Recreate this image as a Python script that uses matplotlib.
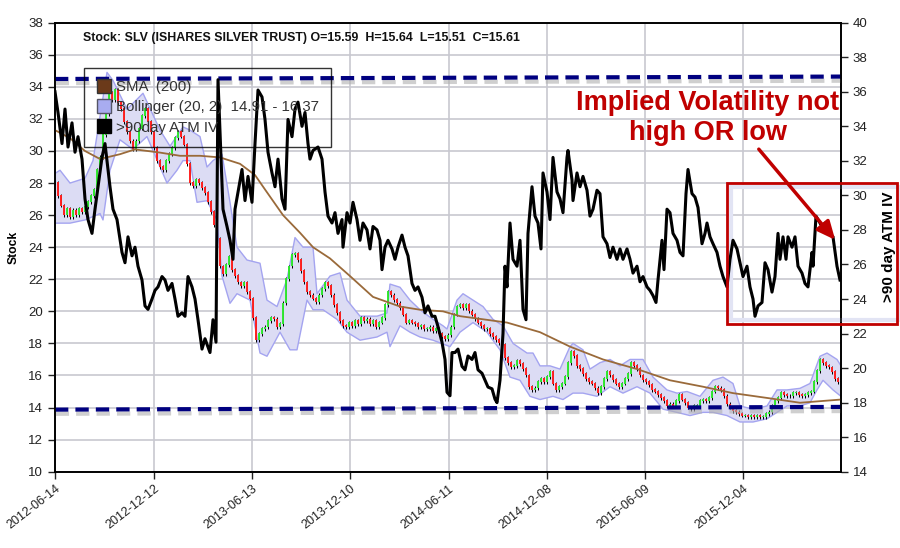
import numpy as np
import matplotlib
matplotlib.use("Agg")
import matplotlib.pyplot as plt
import matplotlib.lines as mlines
import matplotlib.patches as mpatches
import matplotlib.patheffects as pe

plt.rcParams['font.family'] = ['Liberation Sans', 'DejaVu Sans']

# x positions are bar slots along the time axis (0 .. 786)
date_ticks = [0, 99, 197, 295, 394, 492, 590, 688]
date_labels = ['2012-06-14', '2012-12-12', '2013-06-13', '2013-12-10',
               '2014-06-11', '2014-12-08', '2015-06-09', '2015-12-04']

# SLV closes, one every 3 slots
close = [28.0, 27.2, 26.6, 26.0, 26.4, 25.9, 26.3, 26.0, 26.4, 26.2, 26.5, 26.8,
         27.2, 27.6, 28.8, 29.6, 31.0, 32.3, 33.6, 33.2, 33.8, 33.0, 32.6, 31.8,
         31.2, 30.6, 30.1, 30.6, 31.4, 32.2, 32.6, 31.8, 31.2, 30.2, 29.4, 29.0,
         28.8, 29.4, 29.8, 30.2, 30.8, 31.2, 30.9, 30.4, 29.2, 28.0, 27.8, 28.2,
         28.0, 27.7, 27.4, 26.8, 26.2, 25.4, 24.5, 22.8, 22.3, 22.9, 23.4, 22.6,
         22.2, 21.8, 21.6, 21.8, 21.2, 20.8, 19.6, 18.2, 18.6, 18.9, 19.0, 19.4,
         19.6, 19.5, 19.0, 19.2, 20.5, 22.0, 22.8, 23.5, 23.6, 23.2, 22.5, 21.8,
         21.2, 21.0, 20.8, 20.6, 21.0, 21.4, 21.8, 21.6, 21.0, 20.4, 19.9, 19.4,
         19.1, 19.0, 19.3, 19.1, 19.4, 19.2, 19.6, 19.4, 19.5, 19.2, 19.4, 19.0,
         19.3, 19.6, 20.4, 21.2, 21.0, 20.7, 20.5, 20.2, 19.8, 19.3, 19.4, 19.3,
         19.2, 19.0, 19.1, 18.9, 18.9, 19.0, 18.8, 18.9, 18.6, 18.4, 18.3, 18.5,
         19.0, 19.8, 20.3, 20.4, 20.2, 20.4, 20.0, 19.8, 19.5, 19.3, 19.1, 18.9,
         18.9, 18.6, 18.4, 18.2, 18.0, 17.9, 17.1, 16.8, 16.5, 16.6, 16.9, 16.7,
         16.4, 16.0, 15.3, 15.1, 15.2, 15.6, 15.8, 15.6, 15.9, 16.2, 15.5, 15.1,
         15.3, 15.5, 15.9, 16.8, 17.5, 17.2, 16.6, 16.4, 16.1, 15.8, 15.6, 15.5,
         15.2, 14.9, 15.3, 15.8, 16.2, 16.0, 15.7, 15.5, 15.3, 15.5, 15.8, 16.1,
         16.8, 16.6, 16.4, 16.0, 15.7, 15.6, 15.4, 15.1, 15.0, 14.8, 14.6, 14.4,
         14.1, 14.2, 14.1, 14.4, 14.8, 14.5, 14.3, 14.0, 13.9, 14.1, 14.1, 14.4,
         14.5, 14.4, 14.6, 15.0, 15.3, 15.2, 15.1, 14.7, 14.2, 14.0, 13.8, 13.7,
         13.6, 13.5, 13.5, 13.4, 13.5, 13.4, 13.5, 13.4, 13.4, 13.6, 13.7, 14.1,
         14.4, 14.6, 14.9, 14.8, 14.7, 14.7, 14.9, 14.9, 14.8, 14.7, 14.8, 14.9,
         15.0, 15.6, 16.3, 17.0, 16.8, 16.6, 16.5, 16.2, 15.8, 15.6, 15.6]
close_t = np.arange(len(close)) * 3

sma_t = [0, 15, 30, 45, 65, 80, 105, 125, 145, 165, 185, 200, 210, 228, 245, 258,
         275, 295, 318, 345, 365, 388, 405, 452, 485, 515, 548, 582, 615, 648,
         678, 712, 745, 786]
sma = [31.3, 30.8, 30.0, 29.5, 29.8, 30.1, 29.9, 29.7, 29.7, 29.6, 29.2, 28.5,
       27.6, 26.0, 24.9, 24.0, 23.3, 22.2, 20.9, 20.3, 20.1, 20.0, 19.7, 19.3,
       18.7, 17.8, 17.0, 16.4, 15.7, 15.3, 14.9, 14.6, 14.3, 14.5]

bb_up_t = [0, 5, 15, 30, 38, 52, 58, 72, 88, 105, 115, 128, 135, 145, 152, 158,
           167, 175, 182, 192, 205, 212, 222, 232, 240, 248, 258, 262, 275, 285,
           292, 305, 322, 332, 335, 345, 355, 365, 378, 388, 392, 402, 408, 418,
           428, 438, 448, 458, 472, 478, 485, 495, 505, 515, 518, 528, 535, 545,
           555, 565, 575, 588, 598, 612, 622, 632, 645, 658, 668, 678, 685, 698,
           712, 722, 732, 745, 755, 765, 772, 782, 786]
bb_up = [28.6, 28.8, 28.0, 28.3, 29.4, 34.9, 34.4, 32.6, 33.6, 31.3, 30.3, 31.5,
         31.3, 30.9, 29.0, 29.4, 29.8, 26.8, 24.0, 23.2, 23.0, 20.7, 20.3, 22.0,
         24.6, 24.0, 24.0, 21.1, 22.2, 22.4, 20.7, 19.7, 19.7, 19.9, 21.7, 21.5,
         20.7, 20.1, 19.5, 19.1, 18.9, 20.7, 21.1, 20.7, 20.3, 19.5, 19.1, 18.0,
         17.4, 17.4, 16.6, 16.6, 16.4, 17.8, 18.0, 17.6, 16.4, 16.8, 17.0, 16.6,
         17.0, 17.0, 15.9, 15.1, 14.9, 15.0, 14.7, 15.7, 15.9, 15.5, 14.1, 13.9,
         14.1, 15.1, 15.1, 15.2, 15.5, 17.2, 17.4, 17.0, 16.6]

bb_lo_t = [0, 15, 30, 45, 48, 55, 65, 78, 92, 112, 122, 128, 135, 142, 152, 162,
           167, 175, 182, 195, 205, 212, 225, 235, 242, 252, 258, 268, 282, 292,
           305, 322, 332, 335, 345, 355, 365, 378, 395, 405, 418, 432, 445, 455,
           465, 475, 485, 498, 508, 518, 528, 542, 555, 568, 582, 595, 608, 622,
           635, 648, 658, 672, 685, 698, 712, 722, 732, 745, 755, 762, 768, 778,
           786]
bb_lo = [25.5, 25.5, 25.7, 26.1, 25.7, 28.8, 30.7, 30.1, 30.9, 28.0, 28.8, 29.4,
         29.4, 26.8, 26.9, 25.7, 22.2, 20.5, 21.1, 20.7, 17.4, 17.2, 18.7, 17.6,
         17.6, 20.7, 20.1, 20.1, 19.5, 18.7, 18.2, 18.4, 18.7, 17.8, 19.1, 18.7,
         18.4, 18.2, 17.8, 18.7, 19.3, 18.7, 17.6, 15.9, 15.7, 14.7, 14.5, 14.7,
         14.5, 14.9, 14.9, 14.7, 15.3, 14.9, 15.3, 14.9, 13.9, 13.7, 13.5, 13.7,
         13.7, 13.5, 13.1, 13.1, 13.3, 13.7, 14.1, 14.1, 14.3, 15.1, 15.7, 15.1,
         14.7]

iv_t = [0, 3, 7, 10, 13, 17, 20, 23, 27, 30, 33, 37, 40, 43, 47, 50, 53, 55, 58,
        62, 67, 70, 73, 77, 80, 83, 87, 90, 93, 97, 100, 103, 107, 110, 113, 117,
        120, 123, 127, 130, 133, 137, 140, 143, 147, 150, 155, 158, 161, 163, 166,
        168, 172, 175, 178, 180, 183, 187, 190, 193, 197, 200, 203, 207, 210, 213,
        217, 220, 223, 227, 230, 233, 237, 240, 243, 247, 250, 253, 255, 258, 263,
        267, 270, 273, 277, 280, 283, 287, 288, 292, 295, 298, 302, 305, 308, 312,
        315, 318, 322, 325, 327, 330, 333, 337, 340, 343, 347, 350, 353, 357, 360,
        363, 367, 370, 373, 377, 380, 383, 387, 390, 392, 395, 397, 400, 403, 407,
        410, 413, 417, 420, 423, 427, 430, 433, 437, 440, 442, 445, 448, 450, 452,
        455, 458, 462, 465, 468, 471, 473, 477, 480, 483, 486, 488, 492, 495, 498,
        502, 505, 508, 512, 513, 517, 518, 522, 525, 528, 532, 535, 538, 542, 545,
        548, 552, 555, 558, 562, 565, 568, 572, 575, 578, 582, 585, 588, 592, 595,
        598, 601, 603, 607, 609, 612, 615, 618, 622, 625, 628, 631, 633, 637, 640,
        643, 647, 650, 652, 655, 658, 662, 665, 668, 672, 675, 678, 682, 685, 688,
        692, 695, 698, 700, 703, 707, 710, 713, 717, 720, 723, 725, 728, 731, 733,
        737, 740, 743, 747, 750, 753, 757, 758, 761, 763, 767, 770, 773, 778, 782,
        785]
iv = [36.0, 34.8, 33.0, 35.0, 32.8, 34.2, 32.5, 33.4, 32.1, 29.8, 28.6, 27.8, 29.2,
      30.5, 32.2, 33.0, 31.5, 30.5, 29.2, 28.6, 26.7, 26.1, 27.6, 26.5, 27.0, 25.9,
      25.1, 23.6, 23.4, 24.0, 24.5, 24.7, 25.3, 25.1, 24.5, 24.9, 24.0, 23.0, 23.2,
      23.0, 25.3, 24.7, 24.0, 22.8, 21.1, 21.7, 20.9, 22.8, 21.5, 36.7, 32.1, 29.2,
      28.2, 27.4, 26.3, 29.2, 30.2, 31.5, 29.7, 31.1, 29.6, 33.0, 36.1, 35.7, 34.4,
      32.5, 31.3, 30.5, 32.1, 29.8, 29.2, 34.4, 33.4, 35.0, 35.4, 34.0, 34.8, 33.0,
      32.1, 32.6, 32.8, 32.1, 30.2, 28.8, 28.4, 29.0, 27.8, 28.6, 27.0, 29.0, 28.4,
      29.6, 28.6, 27.4, 28.4, 28.0, 26.9, 28.2, 28.0, 27.4, 25.7, 27.0, 27.4, 26.9,
      26.3, 27.0, 27.7, 27.0, 26.5, 24.9, 24.5, 24.7, 24.1, 23.2, 23.6, 23.0, 23.0,
      22.4, 21.5, 20.5, 18.6, 18.4, 20.9, 20.9, 21.1, 20.1, 19.9, 20.7, 20.5, 20.9,
      19.9, 19.7, 19.3, 18.9, 18.8, 18.2, 18.0, 19.3, 22.0, 25.9, 24.7, 28.4, 26.3,
      25.9, 27.4, 23.4, 22.8, 27.8, 30.5, 28.8, 28.4, 26.9, 31.3, 30.2, 28.6, 32.2,
      30.2, 29.8, 29.0, 32.2, 32.6, 30.9, 29.7, 31.3, 30.5, 31.1, 30.3, 28.8, 29.2,
      30.3, 30.1, 27.6, 27.2, 26.4, 27.0, 26.3, 26.9, 26.3, 26.9, 26.3, 25.5, 25.9,
      25.0, 25.3, 24.7, 24.5, 24.2, 23.8, 25.1, 27.4, 25.7, 29.2, 29.0, 27.8, 27.4,
      26.7, 26.5, 30.1, 31.5, 30.1, 29.9, 29.3, 27.2, 27.8, 28.4, 27.6, 27.2, 26.7,
      25.9, 25.3, 24.7, 26.3, 27.4, 26.9, 26.1, 25.3, 25.9, 24.7, 24.0, 23.0, 23.6,
      23.8, 26.1, 25.7, 24.4, 25.3, 27.8, 26.3, 27.6, 26.3, 27.6, 27.0, 27.6, 25.9,
      25.5, 24.9, 24.7, 26.7, 25.9, 28.8, 28.6, 28.2, 28.4, 27.8, 27.6, 25.9, 25.1]

# support / resistance levels (left axis), value at left and right edge
resist_level = [34.49, 34.64]
support_level = [13.87, 14.04]

fig = plt.figure(figsize=(9, 5.48), dpi=100)
ax = fig.add_axes([55 / 900, 76.3 / 548, 786 / 900, 449 / 548])
ax2 = ax.twinx()

ax.set_xlim(0, 786)
ax.set_ylim(10, 38)
ax2.set_ylim(14, 40)
ax.set_yticks(range(10, 39, 2))
ax2.set_yticks(range(14, 41, 2))
ax.set_xticks(date_ticks)
ax.set_xticklabels(date_labels, rotation=38, ha='right', rotation_mode='anchor')
ax.grid(True, color='#c8c8d0', lw=1.2)
ax.set_axisbelow(True)

for a in (ax, ax2):
    for s in a.spines.values():
        s.set_color('black')
        s.set_linewidth(1.2)
    a.tick_params(labelsize=9.5, colors='#222222', length=5, width=1)
ax.tick_params(axis='x', labelsize=9, pad=3)

# bollinger band
band_x = list(bb_up_t) + list(bb_lo_t[::-1])
band_y = list(bb_up) + list(bb_lo[::-1])
ax.fill(band_x, band_y, facecolor='#dcdcf4', edgecolor='none', zorder=1)
ax.plot(bb_up_t, bb_up, color='#a4a4f0', lw=1, zorder=1.5)
ax.plot(bb_lo_t, bb_lo, color='#a4a4f0', lw=1, zorder=1.5)

# candles: open is the previous close
opens = [close[0]] + close[:-1]
for t, o, c in zip(close_t, opens, close):
    lo, hi = min(o, c), max(o, c)
    ax.vlines(t, lo - 0.12, hi + 0.12, color='black', lw=0.7, zorder=2)
    ax.vlines(t, lo, hi + 0.05, color='#ff2020' if c < o else '#30e830',
              lw=1.4, zorder=2.1)

ax.plot(sma_t, sma, color='#9a6a3a', lw=1.3, zorder=3)

# dashed levels with grey shadow
shadow = [pe.SimpleLineShadow(offset=(0.5, -3), shadow_color='#b0b0b0', alpha=0.6),
          pe.Normal()]
for lvl in (resist_level, support_level):
    ax.plot([0, 786], lvl, color='#000080', lw=3, dashes=(3.2, 1.7),
            path_effects=shadow, zorder=4)

ax2.plot(iv_t, iv, color='black', lw=2.2, zorder=5)

ax.set_ylabel('Stock', fontsize=8.7, fontweight='bold')
ax.yaxis.set_label_coords(-0.0445, 0.5)
ax2.set_ylabel('>90 day ATM IV', fontsize=11, fontweight='bold', rotation=90)
ax2.yaxis.set_label_coords(1.052, 0.5)

ax.text(28, 37.05, 'Stock: SLV (ISHARES SILVER TRUST) O=15.59  H=15.64  L=15.51  C=15.61',
        fontsize=8.9, fontweight='bold', color='#111111', va='center')

h_sma = mlines.Line2D([], [], marker='s', ls='none', markersize=10,
                      markerfacecolor='#6b3a1a', markeredgecolor='#333333')
h_bb = mlines.Line2D([], [], marker='s', ls='none', markersize=10,
                     markerfacecolor='#a8acf0', markeredgecolor='#555566')
h_iv = mlines.Line2D([], [], marker='s', ls='none', markersize=10,
                     markerfacecolor='black', markeredgecolor='black')
leg = ax2.legend([h_sma, h_bb, h_iv],
                 ['SMA  (200)', 'Bollinger (20, 2)  14.91 - 16.37', '>90day ATM IV'],
                 loc='upper left', bbox_to_anchor=(0.0369, 0.899), borderaxespad=0,
                 fontsize=10.8, frameon=True, fancybox=False,
                 edgecolor='black', handlelength=1.0, handletextpad=0.3,
                 labelspacing=0.42, borderpad=0.8)
leg.get_frame().set_linewidth(1)
leg.get_frame().set_facecolor('none')
for txt in leg.get_texts():
    txt.set_color('#333333')

# annotation box, arrow and text (right axis units)
ax2.add_patch(mpatches.Rectangle((676, 22.8), 170, 7.7, fill=False,
                                 edgecolor='#e2e4f4', lw=3, clip_on=False, zorder=1))
ax2.add_patch(mpatches.Rectangle((672, 22.53), 170, 8.2, fill=False,
                                 edgecolor='#c00000', lw=2, clip_on=False, zorder=7))
ax2.annotate('', xy=(782, 27.3), xytext=(702, 32.8),
             arrowprops=dict(arrowstyle='-|>,head_length=1.1,head_width=0.5',
                             color='#c00000', lw=2.5), zorder=8)
ax2.text(653, 34.5, 'Implied Volatility not\nhigh OR low', fontsize=19.5,
         fontweight='bold', color='#c00000', ha='center', va='center',
         linespacing=1.2, zorder=8)

fig.savefig('out.png', dpi=100)
